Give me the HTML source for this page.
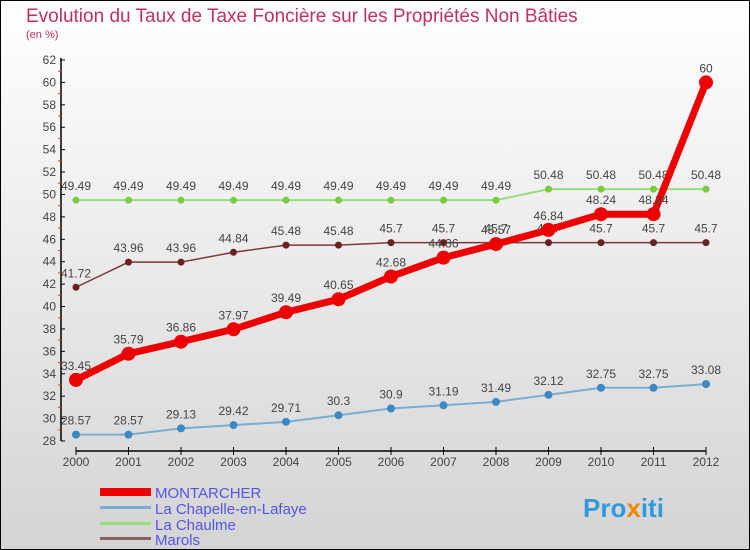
<!DOCTYPE html>
<html><head><meta charset="utf-8"><style>
body{margin:0;}
#c{width:750px;height:550px;position:relative;box-sizing:border-box;border:1px solid #000;background:linear-gradient(#ffffff,#d4d4d4);font-family:"Liberation Sans",sans-serif;overflow:hidden}
</style></head><body>
<div id="c">
<svg id="s" width="750" height="550" style="position:absolute;left:-1px;top:-1px">
<text x="26" y="22" font-size="19" fill="#c03060">Evolution du Taux de Taxe Foncière sur les Propriétés Non Bâties</text>
<text x="26" y="38" font-size="11" fill="#c03060">(en %)</text>
<g id="g"></g>
<g font-size="15" fill="#5555ee">
<rect x="100" y="488" width="51" height="8" fill="#ee0000"/>
<text x="155" y="498">MONTARCHER</text>
<rect x="100" y="506" width="51" height="3" fill="#7aaed0"/>
<text x="155" y="514">La Chapelle-en-Lafaye</text>
<rect x="100" y="522" width="51" height="3" fill="#99dd77"/>
<text x="155" y="530">La Chaulme</text>
<rect x="100" y="537" width="51" height="3" fill="#8b6060"/>
<text x="155" y="545">Marols</text>
</g>
<text x="583" y="517" font-size="26" font-weight="bold" fill="#3399dd">Pro<tspan fill="#ee8800">x</tspan>iti</text>
</svg>
</div>
<script>
const years=[2000,2001,2002,2003,2004,2005,2006,2007,2008,2009,2010,2011,2012];
const yTicks=[28,30,32,34,36,38,40,42,44,46,48,50,52,54,56,58,60,62];
const montarcher=[33.45,35.79,36.86,37.97,39.49,40.65,42.68,44.36,45.57,46.84,48.24,48.24,60];
const chapelle=[28.57,28.57,29.13,29.42,29.71,30.3,30.9,31.19,31.49,32.12,32.75,32.75,33.08];
const chaulme=[49.49,49.49,49.49,49.49,49.49,49.49,49.49,49.49,49.49,50.48,50.48,50.48,50.48];
const marols=[41.72,43.96,43.96,44.84,45.48,45.48,45.7,45.7,45.7,45.7,45.7,45.7,45.7];
const NS="http://www.w3.org/2000/svg";
const g=document.getElementById('g');
const X=i=>76+i*52.5;
const Y=v=>60+(62-v)*(381/34);
function mk(t,a,p){const e=document.createElementNS(NS,t);for(const k in a)e.setAttribute(k,a[k]);(p||g).appendChild(e);return e;}
// axes
let ax=mk('line',{x1:61,y1:58,x2:61,y2:441,stroke:'#000','stroke-width':1.5});


let xa=mk('line',{x1:76,y1:451,x2:706,y2:451,stroke:'#000','stroke-width':1.5});


yTicks.forEach(v=>{
 mk('line',{x1:61,y1:Y(v),x2:65,y2:Y(v),stroke:'#000'});
 if(v<62) mk('line',{x1:58,y1:Y(v+1),x2:61,y2:Y(v+1),stroke:'#e33'});
 const t=mk('text',{x:56,y:Y(v)+4,'text-anchor':'end','font-size':12,fill:'#444'});t.textContent=v;
 
 
});
years.forEach((y,i)=>{
 mk('line',{x1:X(i),y1:447,x2:X(i),y2:455,stroke:'#000'});
 const t=mk('text',{x:X(i),y:466,'text-anchor':'middle','font-size':12,fill:'#444'});t.textContent=y;
 
 
});
function series(vals,color,w,r,dot,name){
 const s=mk('g',{});
 
 
 const p=mk('polyline',{points:vals.map((v,i)=>X(i)+','+Y(v)).join(' '),fill:'none',stroke:color,'stroke-width':w},s);
 vals.forEach((v,i)=>{
  const c=mk('circle',{cx:X(i),cy:Y(v),r:r,fill:dot},s);
  
  
  const t=mk('text',{x:X(i),y:Y(v)-10,'text-anchor':'middle','font-size':12,fill:'#444'},s);t.textContent=v;
  
  
 });
}
series(chaulme,'#99dd77',2,3.5,'#77cc44','chaulme');
series(marols,'#7a3a3a',1.5,3.5,'#6a2020','marols');
series(chapelle,'#7aaed0',2,4,'#3a88c4','chapelle');
series(montarcher,'#ee0000',7,7,'#ee0000','montarcher');
</script>
</body></html>
